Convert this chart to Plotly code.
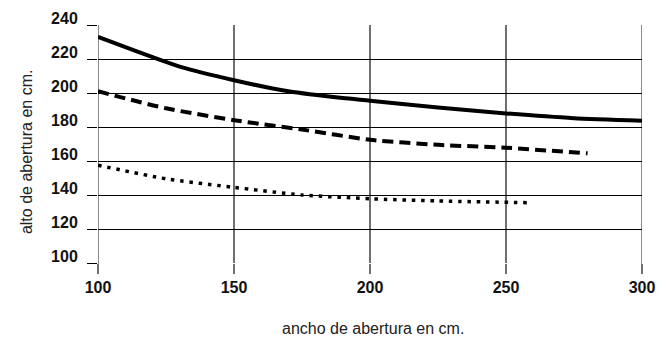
import plotly.graph_objects as go

# Data
x_solid = [100, 115, 130, 150, 170, 190, 200, 225, 250, 275, 300]
y_solid = [233, 224, 215.5, 207.5, 201, 197, 195.5, 191.5, 188, 185.2, 183.7]

x_dash = [100, 125, 150, 175, 200, 225, 250, 280]
y_dash = [201, 191, 184, 178.5, 172.5, 169.5, 167.8, 164.5]

x_dot = [100, 125, 150, 175, 200, 225, 258]
y_dot = [157.5, 149.5, 144.5, 140, 137.8, 136.5, 135.5]

x_ticks = [100, 150, 200, 250, 300]
y_ticks = [100, 120, 140, 160, 180, 200, 220, 240]

x_title = "ancho de abertura en cm."
y_title = "alto de abertura en cm."

GRID_V = "#6e6e6e"

fig = go.Figure()
fig.add_trace(go.Scatter(x=x_solid, y=y_solid, mode="lines",
                         line=dict(color="black", width=4, shape="spline", smoothing=0.6),
                         showlegend=False))
fig.add_trace(go.Scatter(x=x_dash, y=y_dash, mode="lines",
                         line=dict(color="black", width=4, dash="11px,6px", shape="spline", smoothing=0.6),
                         showlegend=False))
fig.add_trace(go.Scatter(x=x_dot, y=y_dot, mode="lines",
                         line=dict(color="black", width=3.5, dash="3.5px,5.8px", shape="spline", smoothing=0.6),
                         showlegend=False))

tick_font = dict(family="Liberation Sans, Arial, sans-serif", size=16,
                 color="#111111", weight="bold")
title_font = dict(family="Liberation Sans, Arial, sans-serif", size=16, color="#222222")

# plotly skips gridlines sitting exactly on the plot edges; draw those two from the tick values
plot_h = 333 - 17 - 78
for xv in (x_ticks[0], x_ticks[-1]):
    fig.add_shape(type="line", xref="x", yref="paper", x0=xv, x1=xv,
                  y0=-10 / plot_h, y1=1, line=dict(color=GRID_V, width=1.6), layer="below")

fig.add_annotation(text=x_title, xref="paper", yref="paper", x=0.5046, y=0,
                   xanchor="center", yanchor="middle", yshift=-65.5,
                   showarrow=False, font=title_font)
fig.add_annotation(text=y_title, xref="paper", yref="paper", x=0, y=0.466,
                   xanchor="center", yanchor="middle", xshift=-72, textangle=-90,
                   showarrow=False, font=title_font)

fig.update_layout(
    width=664, height=333,
    margin=dict(l=90, r=30, t=17, b=78),
    paper_bgcolor="white", plot_bgcolor="white",
    xaxis=dict(range=[100, 300], tickvals=x_ticks, ticktext=[str(v) for v in x_ticks],
               showgrid=True, gridcolor=GRID_V, gridwidth=1.6,
               ticks="outside", ticklen=10, tickcolor=GRID_V, tickwidth=1.6,
               showline=False, zeroline=False, tickfont=tick_font, automargin=False),
    yaxis=dict(range=[100, 240], tickvals=y_ticks, ticktext=[str(v) for v in y_ticks],
               showgrid=True, gridcolor="black", gridwidth=1.3,
               ticks="outside", ticklen=10, tickcolor="black", tickwidth=1.3,
               showline=False, zeroline=False, tickfont=tick_font, automargin=False,
               ticklabelstandoff=6, ticklabelshift=-7),
)

fig.write_html("out.html")
